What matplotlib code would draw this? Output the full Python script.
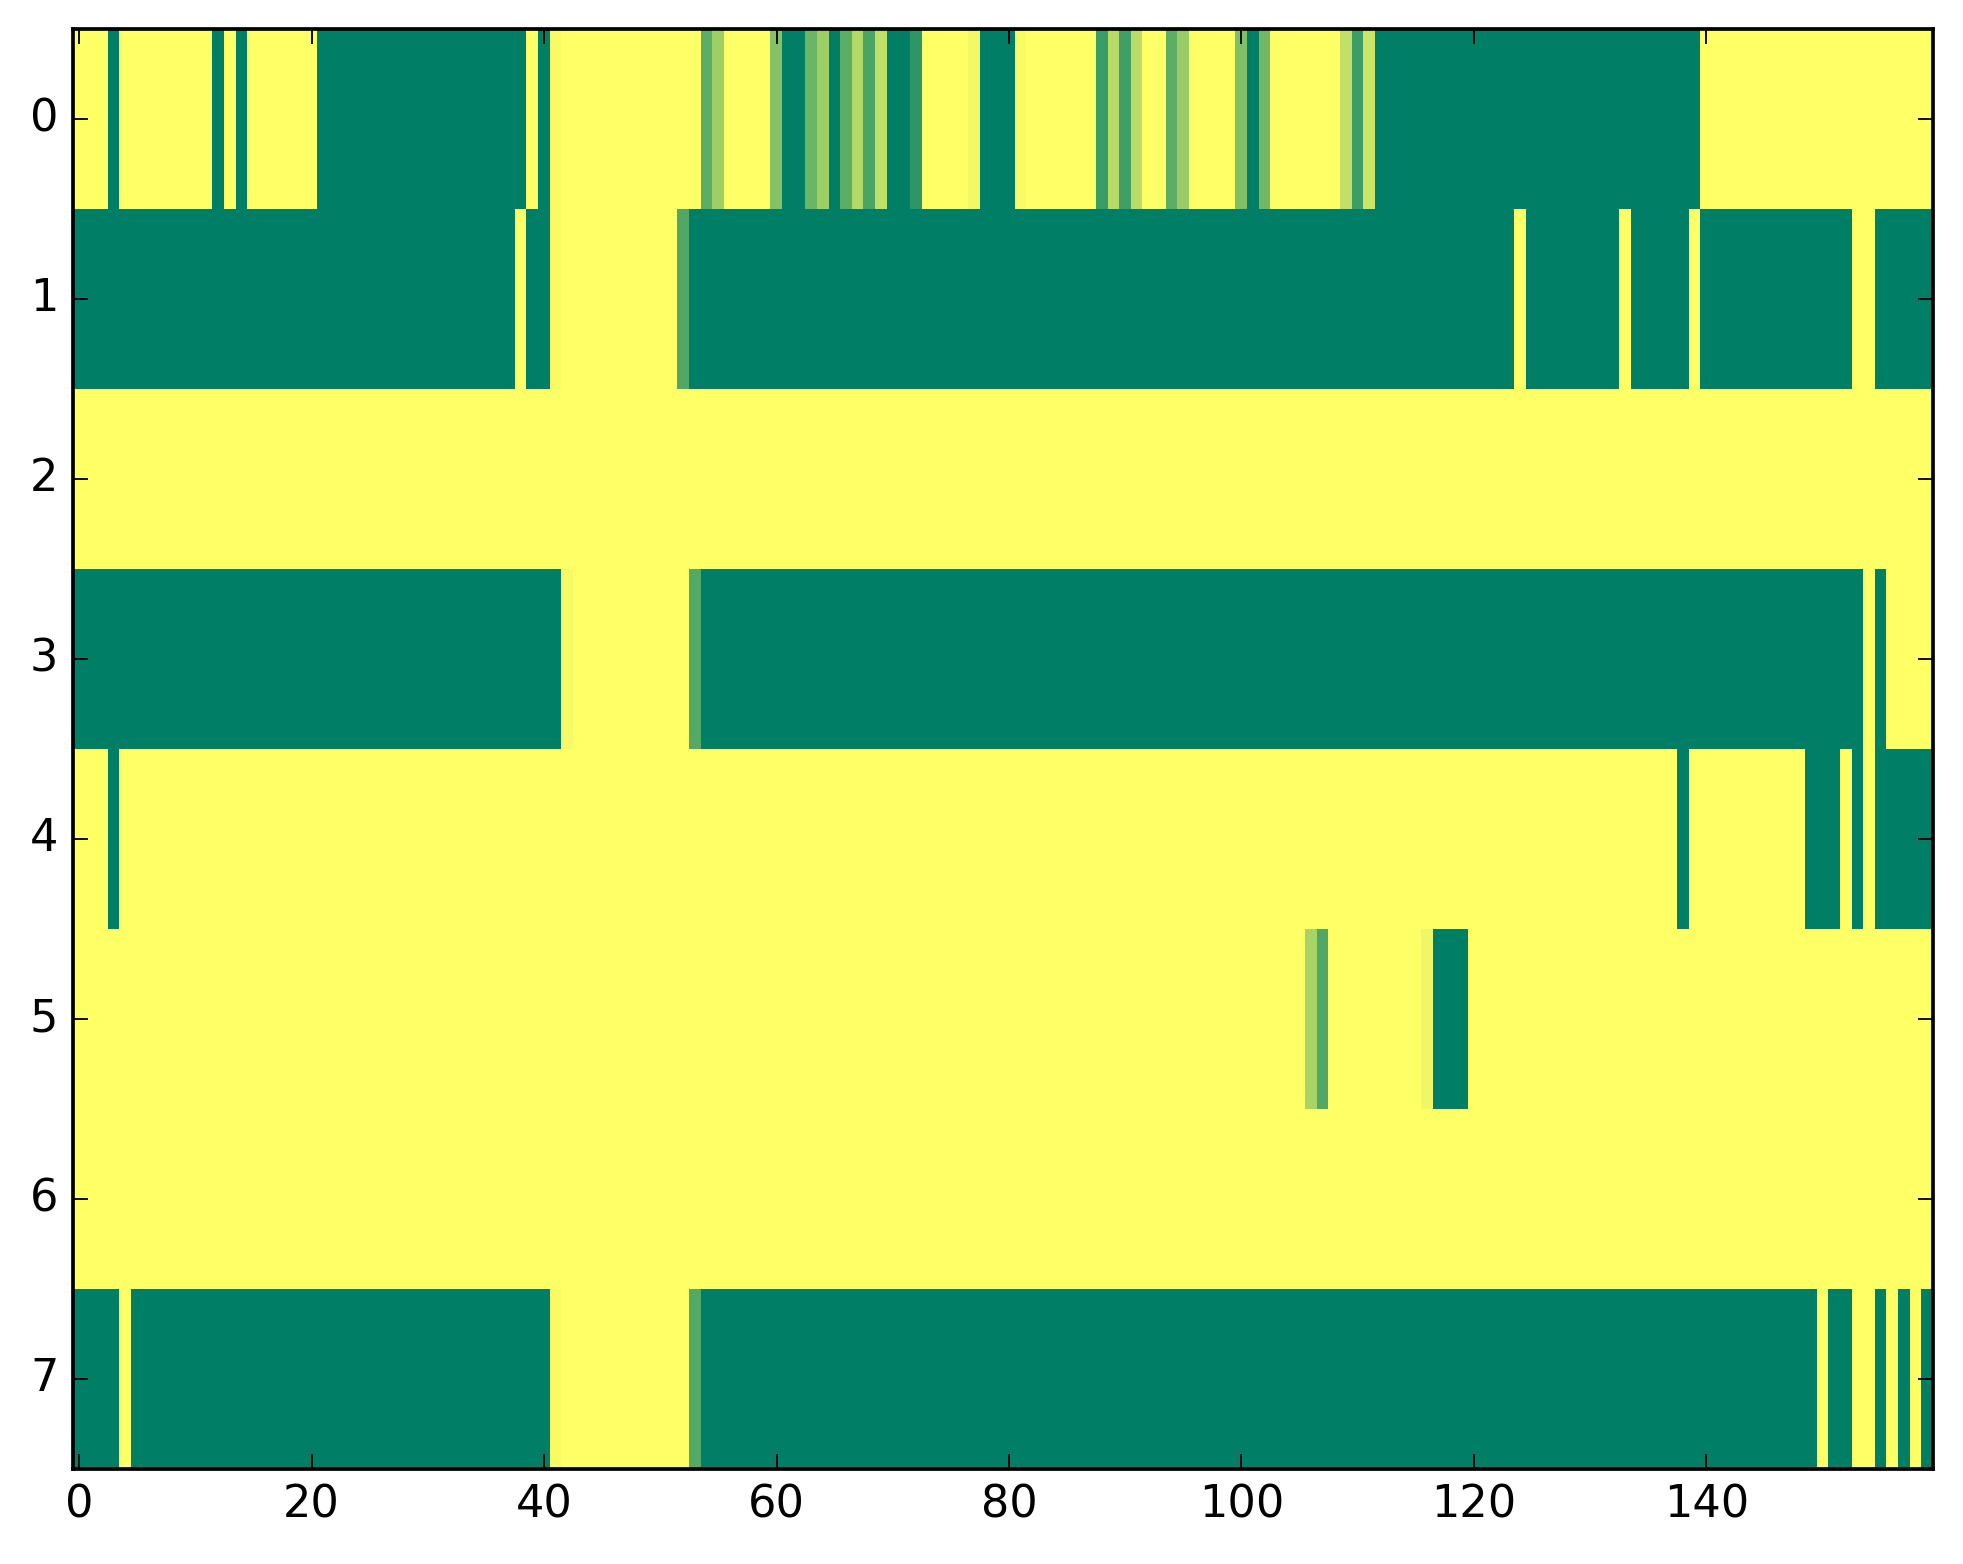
import numpy as np
import matplotlib
matplotlib.use('Agg')
from matplotlib import pyplot as plt

plt.style.use('classic')

# one list per row, 160 columns (0 = dark green, 1 = yellow)
row0 = [1, 1, 1, 0, 1, 1, 1, 1, 1, 1, 1, 1, 0, 1, 0, 1, 1, 1, 1, 1,
        1, 0, 0, 0, 0, 0, 0, 0, 0, 0, 0, 0, 0, 0, 0, 0, 0, 0, 0, 1,
        0, 0.97, 1, 1, 1, 1, 1, 1, 1, 1, 1, 1, 1, 1, 0.36, 0.62, 1, 1, 1, 1,
        0.52, 0, 0, 0.42, 0.62, 0, 0.36, 0.7, 0.29, 0.75, 0, 0, 0.18, 1, 1, 1, 1, 0.95, 0, 0,
        0, 0.97, 1, 1, 1, 1, 1, 1, 0.23, 0.72, 0.25, 0.73, 1, 1, 0.36, 0.6, 1, 1, 1, 1,
        0.5, 0, 0.44, 1, 1, 1, 1, 1, 1, 0.76, 0.24, 0.8, 0, 0, 0, 0, 0, 0, 0, 0,
        0, 0, 0, 0, 0, 0, 0, 0, 0, 0, 0, 0, 0, 0, 0, 0, 0, 0, 0, 0,
        1, 1, 1, 1, 1, 1, 1, 1, 1, 1, 1, 1, 1, 1, 1, 1, 1, 1, 1, 1]

row1 = [0, 0, 0, 0, 0, 0, 0, 0, 0, 0, 0, 0, 0, 0, 0, 0, 0, 0, 0, 0,
        0, 0, 0, 0, 0, 0, 0, 0, 0, 0, 0, 0, 0, 0, 0, 0, 0, 0, 1, 0,
        0, 0.97, 1, 1, 1, 1, 1, 1, 1, 1, 1, 1, 0.32, 0, 0, 0, 0, 0, 0, 0,
        0, 0, 0, 0, 0, 0, 0, 0, 0, 0, 0, 0, 0, 0, 0, 0, 0, 0, 0, 0,
        0, 0, 0, 0, 0, 0, 0, 0, 0, 0, 0, 0, 0, 0, 0, 0, 0, 0, 0, 0,
        0, 0, 0, 0, 0, 0, 0, 0, 0, 0, 0, 0, 0, 0, 0, 0, 0, 0, 0, 0,
        0, 0, 0, 0, 1, 0, 0, 0, 0, 0, 0, 0, 0, 1, 0, 0, 0, 0, 0, 1,
        0, 0, 0, 0, 0, 0, 0, 0, 0, 0, 0, 0, 0, 1, 1, 0, 0, 0, 0, 0]

row2 = [1, 1, 1, 1, 1, 1, 1, 1, 1, 1, 1, 1, 1, 1, 1, 1, 1, 1, 1, 1,
        1, 1, 1, 1, 1, 1, 1, 1, 1, 1, 1, 1, 1, 1, 1, 1, 1, 1, 1, 1,
        1, 1, 1, 1, 1, 1, 1, 1, 1, 1, 1, 1, 1, 1, 1, 1, 1, 1, 1, 1,
        1, 1, 1, 1, 1, 1, 1, 1, 1, 1, 1, 1, 1, 1, 1, 1, 1, 1, 1, 1,
        1, 1, 1, 1, 1, 1, 1, 1, 1, 1, 1, 1, 1, 1, 1, 1, 1, 1, 1, 1,
        1, 1, 1, 1, 1, 1, 1, 1, 1, 1, 1, 1, 1, 1, 1, 1, 1, 1, 1, 1,
        1, 1, 1, 1, 1, 1, 1, 1, 1, 1, 1, 1, 1, 1, 1, 1, 1, 1, 1, 1,
        1, 1, 1, 1, 1, 1, 1, 1, 1, 1, 1, 1, 1, 1, 1, 1, 1, 1, 1, 1]

row3 = [0, 0, 0, 0, 0, 0, 0, 0, 0, 0, 0, 0, 0, 0, 0, 0, 0, 0, 0, 0,
        0, 0, 0, 0, 0, 0, 0, 0, 0, 0, 0, 0, 0, 0, 0, 0, 0, 0, 0, 0,
        0, 0, 0.96, 1, 1, 1, 1, 1, 1, 1, 1, 1, 1, 0.33, 0, 0, 0, 0, 0, 0,
        0, 0, 0, 0, 0, 0, 0, 0, 0, 0, 0, 0, 0, 0, 0, 0, 0, 0, 0, 0,
        0, 0, 0, 0, 0, 0, 0, 0, 0, 0, 0, 0, 0, 0, 0, 0, 0, 0, 0, 0,
        0, 0, 0, 0, 0, 0, 0, 0, 0, 0, 0, 0, 0, 0, 0, 0, 0, 0, 0, 0,
        0, 0, 0, 0, 0, 0, 0, 0, 0, 0, 0, 0, 0, 0, 0, 0, 0, 0, 0, 0,
        0, 0, 0, 0, 0, 0, 0, 0, 0, 0, 0, 0, 0, 0, 1, 0, 1, 1, 1, 1]

row4 = [1, 1, 1, 0, 1, 1, 1, 1, 1, 1, 1, 1, 1, 1, 1, 1, 1, 1, 1, 1,
        1, 1, 1, 1, 1, 1, 1, 1, 1, 1, 1, 1, 1, 1, 1, 1, 1, 1, 1, 1,
        1, 1, 1, 1, 1, 1, 1, 1, 1, 1, 1, 1, 1, 1, 1, 1, 1, 1, 1, 1,
        1, 1, 1, 1, 1, 1, 1, 1, 1, 1, 1, 1, 1, 1, 1, 1, 1, 1, 1, 1,
        1, 1, 1, 1, 1, 1, 1, 1, 1, 1, 1, 1, 1, 1, 1, 1, 1, 1, 1, 1,
        1, 1, 1, 1, 1, 1, 1, 1, 1, 1, 1, 1, 1, 1, 1, 1, 1, 1, 1, 1,
        1, 1, 1, 1, 1, 1, 1, 1, 1, 1, 1, 1, 1, 1, 1, 1, 1, 1, 0, 1,
        1, 1, 1, 1, 1, 1, 1, 1, 1, 0, 0, 0, 1, 0, 1, 0, 0, 0, 0, 0]

row5 = [1, 1, 1, 1, 1, 1, 1, 1, 1, 1, 1, 1, 1, 1, 1, 1, 1, 1, 1, 1,
        1, 1, 1, 1, 1, 1, 1, 1, 1, 1, 1, 1, 1, 1, 1, 1, 1, 1, 1, 1,
        1, 1, 1, 1, 1, 1, 1, 1, 1, 1, 1, 1, 1, 1, 1, 1, 1, 1, 1, 1,
        1, 1, 1, 1, 1, 1, 1, 1, 1, 1, 1, 1, 1, 1, 1, 1, 1, 1, 1, 1,
        1, 1, 1, 1, 1, 1, 1, 1, 1, 1, 1, 1, 1, 1, 1, 1, 1, 1, 1, 1,
        1, 1, 1, 1, 1, 1, 0.66, 0.32, 1, 1, 1, 1, 1, 1, 1, 1, 0.94, 0, 0, 0,
        1, 1, 1, 1, 1, 1, 1, 1, 1, 1, 1, 1, 1, 1, 1, 1, 1, 1, 1, 1,
        1, 1, 1, 1, 1, 1, 1, 1, 1, 1, 1, 1, 1, 1, 1, 1, 1, 1, 1, 1]

row6 = [1, 1, 1, 1, 1, 1, 1, 1, 1, 1, 1, 1, 1, 1, 1, 1, 1, 1, 1, 1,
        1, 1, 1, 1, 1, 1, 1, 1, 1, 1, 1, 1, 1, 1, 1, 1, 1, 1, 1, 1,
        1, 1, 1, 1, 1, 1, 1, 1, 1, 1, 1, 1, 1, 1, 1, 1, 1, 1, 1, 1,
        1, 1, 1, 1, 1, 1, 1, 1, 1, 1, 1, 1, 1, 1, 1, 1, 1, 1, 1, 1,
        1, 1, 1, 1, 1, 1, 1, 1, 1, 1, 1, 1, 1, 1, 1, 1, 1, 1, 1, 1,
        1, 1, 1, 1, 1, 1, 1, 1, 1, 1, 1, 1, 1, 1, 1, 1, 1, 1, 1, 1,
        1, 1, 1, 1, 1, 1, 1, 1, 1, 1, 1, 1, 1, 1, 1, 1, 1, 1, 1, 1,
        1, 1, 1, 1, 1, 1, 1, 1, 1, 1, 1, 1, 1, 1, 1, 1, 1, 1, 1, 1]

row7 = [0, 0, 0, 0, 1, 0, 0, 0, 0, 0, 0, 0, 0, 0, 0, 0, 0, 0, 0, 0,
        0, 0, 0, 0, 0, 0, 0, 0, 0, 0, 0, 0, 0, 0, 0, 0, 0, 0, 0, 0,
        0, 0.97, 1, 1, 1, 1, 1, 1, 1, 1, 1, 1, 1, 0.33, 0, 0, 0, 0, 0, 0,
        0, 0, 0, 0, 0, 0, 0, 0, 0, 0, 0, 0, 0, 0, 0, 0, 0, 0, 0, 0,
        0, 0, 0, 0, 0, 0, 0, 0, 0, 0, 0, 0, 0, 0, 0, 0, 0, 0, 0, 0,
        0, 0, 0, 0, 0, 0, 0, 0, 0, 0, 0, 0, 0, 0, 0, 0, 0, 0, 0, 0,
        0, 0, 0, 0, 0, 0, 0, 0, 0, 0, 0, 0, 0, 0, 0, 0, 0, 0, 0, 0,
        0, 0, 0, 0, 0, 0, 0, 0, 0, 0, 1, 0, 0, 1, 1, 0, 1, 0, 1, 0]

rows = [row0, row1, row2, row3, row4, row5, row6, row7]
for r in rows:
    assert len(r) == 160
grid = np.array(rows, dtype=float)

xticks = [0, 20, 40, 60, 80, 100, 120, 140]
yticks = [0, 1, 2, 3, 4, 5, 6, 7]

dpi = 268
fig = plt.figure(figsize=(1963 / dpi, 1564 / dpi), dpi=dpi)
ax = fig.add_axes([0.0373, 0.0610, 0.9475, 0.9207])
ax.imshow(grid, cmap='summer', aspect='auto', interpolation='nearest',
          vmin=0, vmax=1)
ax.set_xticks(xticks)
ax.set_yticks(yticks)

fig.savefig('out.png', dpi=dpi)
